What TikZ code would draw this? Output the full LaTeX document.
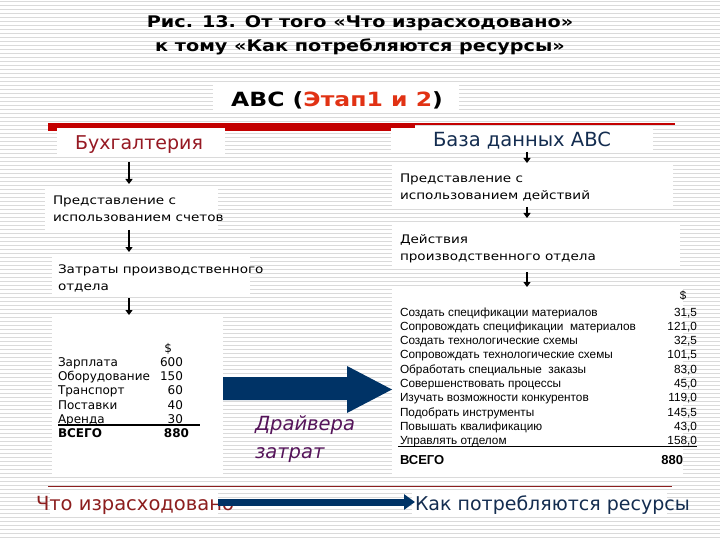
\documentclass[tikz,border=0pt]{standalone}
\usepackage{fontspec}
\setmainfont{DejaVu Sans}
\newfontfamily\wideface[FakeStretch=1.2]{DejaVu Sans}
\newfontfamily\bodyface[FakeStretch=1.15]{DejaVu Sans}
\newfontfamily\tabface{Liberation Sans}
\usetikzlibrary{arrows.meta}
\definecolor{barred}{RGB}{195,0,0}
\definecolor{buhred}{RGB}{150,25,35}
\definecolor{basenavy}{RGB}{20,45,80}
\definecolor{arrnavy}{RGB}{0,51,102}
\definecolor{orred}{RGB}{225,50,20}
\definecolor{drvpurple}{RGB}{85,20,90}
\definecolor{stripecol}{RGB}{218,218,218}
\definecolor{lowred}{RGB}{140,30,30}
\begin{document}
\begin{tikzpicture}[x=1pt,y=-1pt,
  wbox/.style={fill=white,draw=none,inner sep=0pt,outer sep=0pt,anchor=north west},
  txt/.style={inner sep=0pt,outer sep=0pt,anchor=base west,align=left},
  ctxt/.style={inner sep=0pt,outer sep=0pt,anchor=base},
  smallarr/.style={line width=2pt,-{Triangle[length=5pt,width=7pt]}},
  bodytext/.style={txt,font=\bodyface\fontsize{11.8}{17}\selectfont},
]
\useasboundingbox (0,0) rectangle (720,540);
\fill[white] (0,0) rectangle (720,540);
\foreach \i in {0,...,134} \draw[stripecol,line width=1pt] (0,\i*4+1.5) -- (720,\i*4+1.5);

% red bar
\fill[barred] (48,123) rectangle (415,131);
\draw[barred,line width=1.3pt] (415,124) -- (675,124);
\draw[lowred,line width=1pt] (48,486) -- (672,486);

% white boxes
\node[wbox,minimum width=246pt,minimum height=27pt] (abcbox) at (213,85) {};
\node[wbox,minimum width=168pt,minimum height=27pt] (buhbox) at (57,128) {};
\node[wbox,minimum width=262pt,minimum height=24pt] (basebox) at (391,128) {};
\node[wbox,minimum width=173pt,minimum height=43pt] (pred1box) at (45,187) {};
\node[wbox,minimum width=198pt,minimum height=42pt] (zatrbox) at (52,255) {};
\node[wbox,minimum width=171pt,minimum height=162pt] (tabLbox) at (52,315) {};
\node[wbox,minimum width=281pt,minimum height=44pt] (pred2box) at (392,163) {};
\node[wbox,minimum width=288pt,minimum height=45pt] (deystbox) at (392,222) {};
\node[wbox,minimum width=291pt,minimum height=190pt] (tabRbox) at (392,287) {};
\node[wbox,minimum width=168pt,minimum height=25pt] (spentbox) at (50,491) {};
\node[wbox,minimum width=255pt,minimum height=25pt] (usedbox) at (412,491) {};

% titles
\node[ctxt,font=\wideface\bfseries\fontsize{16}{20}\selectfont] (title1) at (360,28) {Рис. 13. От того «Что израсходовано»};
\node[ctxt,font=\wideface\bfseries\fontsize{16}{20}\selectfont] (title2) at (360,52) {к тому «Как потребляются ресурсы»};
\node[ctxt,font=\wideface\bfseries\fontsize{19.6}{22}\selectfont] (abc) at (337,107) {ABC (\textcolor{orred}{Этап1 и 2})};

% headers
\node[ctxt,text=buhred,font=\fontsize{19}{22}\selectfont] (buh) at (139,150) {Бухгалтерия};
\node[ctxt,text=basenavy,font=\fontsize{19.5}{22}\selectfont] (base) at (522,147) {База данных ABC};

% body texts (base anchor = last line baseline)
\node[bodytext] (pred1) at (53,222) {Представление с\\использованием счетов};
\node[bodytext] (zatr) at (58,290) {Затраты производственного\\отдела};
\node[bodytext] (pred2) at (400,200) {Представление с\\использованием действий};
\node[bodytext] (deyst) at (400,260) {Действия\\производственного отдела};

% small arrows
\coordinate (axL) at (129,0);
\coordinate (axR) at (527,0);
\draw[smallarr,shorten <=7pt,shorten >=3pt] (buhbox.south -| axL) -- (pred1box.north -| axL);
\draw[smallarr,shorten >=3pt] (pred1box.south -| axL) -- (zatrbox.north -| axL);
\draw[smallarr,shorten <=1pt] (zatrbox.south -| axL) -- (tabLbox.north -| axL);
\draw[smallarr] (basebox.south -| axR) -- (pred2box.north -| axR);
\draw[smallarr,shorten >=4pt] (pred2box.south -| axR) -- (deystbox.north -| axR);
\draw[smallarr,shorten <=5pt] (deystbox.south -| axR) -- (tabRbox.north -| axR);

% left table
\node[inner sep=0pt,outer sep=0pt,anchor=north west,font=\fontsize{12}{14.3}\selectfont] (tabL) at (58,342) {%
\begin{tabular}{@{}l@{}}
\makebox[125pt][l]{\hfill\$\hspace{11pt}}\\
\makebox[125pt][l]{Зарплата\hfill 600}\\
\makebox[125pt][l]{Оборудование\hfill 150}\\
\makebox[125pt][l]{Транспорт\hfill 60}\\
\makebox[125pt][l]{Поставки\hfill 40}\\
\makebox[125pt][l]{Аренда\hfill 30}\\
\makebox[125pt][l]{\bfseries ВСЕГО\hfill 880\hspace{-6pt}}
\end{tabular}};
\draw[line width=1.8pt] (58,425) -- (200,425);

% right table
\node[ctxt,font=\tabface\fontsize{11.5}{14}\selectfont] (dollarR) at (683,299) {\$};
\node[inner sep=0pt,outer sep=0pt,anchor=north west,font=\tabface\fontsize{11.8}{14.3}\selectfont] (tabR) at (400,306) {%
\begin{tabular}{@{}l@{}}
\makebox[297pt][l]{Создать спецификации материалов\hfill 31,5}\\
\makebox[297pt][l]{Сопровождать спецификации\ \ материалов\hfill 121,0}\\
\makebox[297pt][l]{Создать технологические схемы\hfill 32,5}\\
\makebox[297pt][l]{Сопровождать технологические схемы\hfill 101,5}\\
\makebox[297pt][l]{Обработать специальные\ \ заказы\hfill 83,0}\\
\makebox[297pt][l]{Совершенствовать процессы\hfill 45,0}\\
\makebox[297pt][l]{Изучать возможности конкурентов\hfill 119,0}\\
\makebox[297pt][l]{Подобрать инструменты\hfill 145,5}\\
\makebox[297pt][l]{Повышать квалификацию\hfill 43,0}\\
\makebox[297pt][l]{Управлять отделом\hfill 158,0}
\end{tabular}};
\draw[line width=1.8pt] (398,446.5) -- (697,446.5);
\node[txt,font=\tabface\bfseries\fontsize{13}{15}\selectfont] (totalR) at (400,464) {\makebox[283pt][l]{ВСЕГО\hfill 880}};

% big arrow
\fill[arrnavy] (223,377) -- (347,377) -- (347,366) -- (392,389.5) -- (347,413) -- (347,400) -- (223,400) -- cycle;
\node[txt,text=drvpurple,font=\itshape\fontsize{19.5}{28}\selectfont] (drv) at (255,458) {Драйвера\\затрат};

% bottom
\node[txt,text=lowred,font=\fontsize{19.5}{22}\selectfont] (spent) at (36,510) {Что израсходовано};
\node[txt,text=basenavy,font=\fontsize{19}{22}\selectfont] (used) at (415,510) {Как потребляются ресурсы};
\coordinate (botstart) at (218,502);
\draw[arrnavy,line width=7pt,-{Triangle[length=11pt,width=15pt]}] (botstart) -- (used.west |- botstart);
\end{tikzpicture}
\end{document}
